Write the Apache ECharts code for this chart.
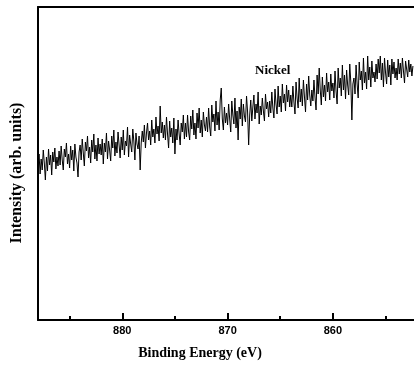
<!DOCTYPE html>
<html>
<head>
<meta charset="utf-8">
<script src="https://cdn.jsdelivr.net/npm/echarts@6/dist/echarts.min.js"></script>
<style>
  html, body { margin: 0; padding: 0; background: #fff; }
  #chart { width: 414px; height: 374px; }
</style>
</head>
<body>
<div id="chart"></div>
<script>
// XPS scan, Ni region, sampled every 0.1 eV starting at 888.0 eV
const energyStart = 888.0;
const energyStep = 0.1;

// intensity (arb. units)
const intensity = [
  152, 166, 146, 161, 150, 170, 157, 140, 163, 149, 171, 155, 165, 145, 168, 158, 172, 151, 163, 154,
  169, 155, 174, 160, 150, 171, 163, 177, 156, 166, 152, 174, 160, 170, 149, 176, 163, 157, 143, 168,
  175, 160, 181, 167, 154, 178, 169, 184, 162, 173, 157, 180, 168, 186, 161, 175, 159, 182, 166, 176,
  165, 181, 156, 177, 168, 187, 161, 179, 170, 159, 184, 172, 190, 164, 178, 167, 188, 175, 162, 183,
  170, 190, 165, 179, 174, 193, 163, 185, 176, 168, 191, 179, 160, 187, 176, 171, 184, 150, 177, 189,
  178, 195, 172, 187, 197, 180, 189, 175, 200, 183, 191, 177, 203, 186, 194, 179, 214, 187, 198, 182,
  195, 180, 203, 186, 172, 199, 183, 192, 177, 202, 166, 191, 180, 200, 186, 175, 197, 188, 205, 181,
  197, 183, 205, 188, 180, 204, 191, 210, 185, 197, 181, 207, 192, 212, 187, 200, 183, 208, 195, 189,
  203, 188, 212, 193, 184, 215, 198, 206, 189, 219, 195, 208, 190, 220, 232, 201, 190, 213, 197, 207,
  195, 216, 201, 188, 219, 205, 196, 222, 192, 209, 180, 213, 201, 221, 194, 216, 204, 198, 224, 208,
  175, 205, 220, 199, 213, 225, 201, 216, 207, 228, 196, 214, 205, 222, 209, 199, 226, 211, 218, 203,
  219, 207, 228, 212, 202, 231, 216, 206, 234, 213, 224, 208, 236, 217, 226, 209, 235, 218, 230, 213,
  225, 213, 234, 218, 206, 238, 222, 212, 242, 218, 231, 214, 240, 223, 208, 236, 220, 244, 225, 214,
  230, 219, 240, 223, 210, 245, 226, 252, 230, 215, 243, 223, 235, 219, 247, 228, 238, 220, 246, 229,
  237, 222, 249, 229, 216, 252, 232, 242, 224, 255, 230, 245, 221, 250, 235, 225, 256, 238, 200, 236,
  242, 226, 255, 236, 222, 258, 240, 249, 230, 262, 237, 248, 231, 264, 240, 253, 233, 259, 242, 248,
  238, 256, 241, 261, 247, 264, 240, 257, 233, 262, 247, 236, 260, 243, 255, 235, 261, 246, 258, 242,
  252, 240, 261, 246, 257, 242, 262, 249, 237, 259, 251, 243, 260, 248, 256, 244, 254
];

const majorTicks = [880, 870, 860];
const minorTicks = [885, 875, 865, 855];
const label = 'Nickel';

const points = intensity.map((v, i) => [+(energyStart - i * energyStep).toFixed(1), v]);

const chart = echarts.init(document.getElementById('chart'));

const xBase = {
  type: 'value',
  min: 852.3,
  max: 888,
  inverse: true,
  splitLine: { show: false }
};

chart.setOption({
  animation: false,
  grid: { left: 38, top: 7, right: -2, bottom: 54 },
  xAxis: [
    Object.assign({}, xBase, {
      position: 'bottom',
      axisLine: { show: true, onZero: false, lineStyle: { color: '#000', width: 2 } },
      axisTick: { show: true, inside: true, length: 7, customValues: majorTicks, lineStyle: { color: '#000', width: 2 } },
      axisLabel: {
        customValues: majorTicks,
        color: '#000', fontFamily: 'Liberation Sans', fontWeight: 'bold', fontSize: 11, margin: 5
      }
    }),
    Object.assign({}, xBase, {
      position: 'bottom',
      axisLine: { show: false },
      axisTick: { show: true, inside: true, length: 4, customValues: minorTicks, lineStyle: { color: '#000', width: 2 } },
      axisLabel: { show: false }
    }),
    Object.assign({}, xBase, {
      position: 'top',
      axisLine: { show: true, onZero: false, lineStyle: { color: '#000', width: 2 } },
      axisTick: { show: false },
      axisLabel: { show: false }
    })
  ],
  yAxis: {
    type: 'value',
    min: 0,
    max: 313,
    axisLine: { show: true, onZero: false, lineStyle: { color: '#000', width: 2 } },
    axisTick: { show: false },
    axisLabel: { show: false },
    splitLine: { show: false }
  },
  series: [{
    type: 'line',
    data: points,
    showSymbol: false,
    lineStyle: { color: '#000', width: 1 }
  }],
  graphic: [
    {
      type: 'text', left: 255, top: 64,
      style: { text: label, fill: '#000', font: 'bold 13px "Liberation Serif"' }
    },
    {
      type: 'text', x: 200, y: 353,
      style: { text: 'Binding Energy (eV)', fill: '#000', font: 'bold 14px "Liberation Serif"', align: 'center', verticalAlign: 'middle' }
    },
    {
      type: 'text', x: 17, y: 173, rotation: Math.PI / 2,
      style: { text: 'Intensity (arb. units)', fill: '#000', font: 'bold 16px "Liberation Serif"', align: 'center', verticalAlign: 'middle' }
    }
  ]
});
</script>
</body>
</html>
